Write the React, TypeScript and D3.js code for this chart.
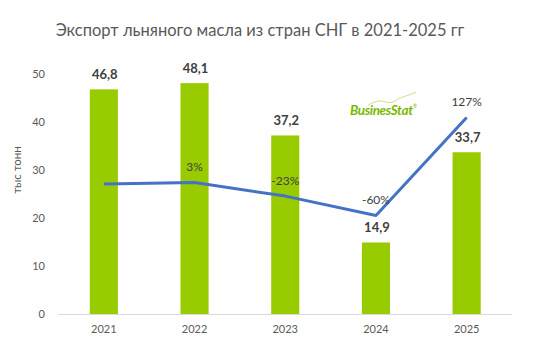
import React from "react";
import * as d3 from "d3";

const years = ["2021", "2022", "2023", "2024", "2025"];
const exportValues = [46.8, 48.1, 37.2, 14.9, 33.7];
const growthValues = [0, 3, -23, -60, 127];
const growthLabels = ["", "3%", "-23%", "-60%", "127%"];
const yTicks = [0, 10, 20, 30, 40, 50];

const W = 538;
const H = 356;
const left = 58.5;
const right = 512;
const top = 74;
const bottom = 314;

export default function App() {
  const x = d3.scaleBand<string>().domain(years).range([left, right]).paddingInner(0.69).paddingOuter(0.345);
  const y = d3.scaleLinear().domain([0, 50]).range([bottom, top]);
  const y2 = d3.scaleLinear().domain([-248, 210]).range([bottom, top]);
  const cx = (d: string) => (x(d) as number) + x.bandwidth() / 2;
  const line = d3
    .line<number>()
    .x((_, i) => cx(years[i]))
    .y((d) => y2(d));
  const font = "Lato, 'Open Sans', sans-serif";
  const fmt = (v: number) => v.toFixed(1).replace(".", ",");
  return (
    <svg width={W} height={H} style={{ position: "absolute", left: 0, top: 0, fontFamily: font }}>
      <rect width={W} height={H} fill="#ffffff" />
      <text x={260} y={36} textAnchor="middle" fontSize={16.5} fill="#595959">
        Экспорт льняного масла из стран СНГ в 2021-2025 гг
      </text>
      <text transform={`translate(21,170) rotate(-90)`} textAnchor="middle" fontSize={11.5} fill="#595959">
        тыс тонн
      </text>
      {yTicks.map((t) => (
        <text key={t} x={45} y={y(t) + 4} textAnchor="end" fontSize={11} fill="#595959">
          {t}
        </text>
      ))}
      {years.map((yr, i) => (
        <rect key={yr} x={x(yr)} y={y(exportValues[i])} width={x.bandwidth()} height={bottom - y(exportValues[i])} fill="#99cc00" />
      ))}
      <line x1={left} x2={right} y1={bottom + 0.5} y2={bottom + 0.5} stroke="#d9d9d9" strokeWidth={1} />
      {years.map((yr) => (
        <text key={yr} x={cx(yr)} y={333} textAnchor="middle" fontSize={11} fill="#595959">
          {yr}
        </text>
      ))}
      {years.map((yr, i) => (
        <text key={yr} x={cx(yr) + 1} y={y(exportValues[i]) - 10} textAnchor="middle" fontSize={13} fontWeight="bold" fill="#404040">
          {fmt(exportValues[i])}
        </text>
      ))}
      <path d={line(growthValues) || ""} fill="none" stroke="#4472c4" strokeWidth={3} strokeLinejoin="round" />
      {years.map((yr, i) =>
        growthLabels[i] ? (
          <text key={yr} x={cx(yr)} y={y2(growthValues[i]) - 11} textAnchor="middle" fontSize={12} fill="#404040">
            {growthLabels[i]}
          </text>
        ) : null
      )}
      <g>
        <path d="M368,105 C376,101 380,100 386,102 C392,104 396,100 400,98 C405,96 410,95 416,92" fill="none" stroke="#b5d96a" strokeWidth={0.8} />
        <text x={350} y={115} fontSize={13.5} fontWeight="bold" fontStyle="italic" fill="#7ab800" letterSpacing={-0.4}>
          BusinesStat
        </text>
        <text x={413} y={108} fontSize={5} fill="#7ab800">®</text>
      </g>
    </svg>
  );
}
